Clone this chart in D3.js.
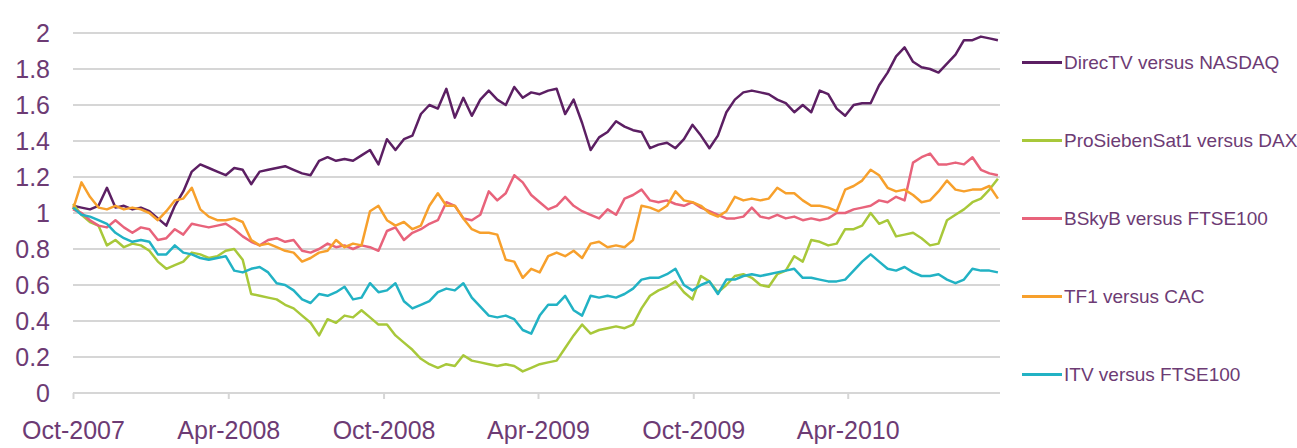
<!DOCTYPE html>
<html>
<head>
<meta charset="utf-8">
<script src="https://cdn.jsdelivr.net/npm/d3@7/dist/d3.min.js"></script>
<style>
  body { margin: 0; background: #fff; }
  svg { display: block; font-family: "Liberation Sans", Arial, sans-serif; }
</style>
</head>
<body>
<div id="container"></div>
<script>
/* CONSTANTS AND GLOBALS */
const width = 1297,
  height = 448,
  margin = { top: 33, bottom: 55, left: 73, right: 297 }

const textColor = "#6d3b74"
const gridColor = "#d6d6d6"

/* DATA */
// relative performance, one reading every 10 days from 1 Oct 2007
const startDate = new Date(2007, 9, 1)
const stepDays = 10

const directv = [1.04,1.03,1.02,1.04,1.14,1.03,1.04,1.02,1.03,1.01,
  0.97,0.93,1.04,1.12,1.23,1.27,1.25,1.23,1.21,1.25,
  1.24,1.16,1.23,1.24,1.25,1.26,1.24,1.22,1.21,1.29,
  1.31,1.29,1.30,1.29,1.32,1.35,1.27,1.41,1.35,1.41,
  1.43,1.55,1.60,1.58,1.69,1.53,1.64,1.54,1.63,1.68,
  1.63,1.60,1.70,1.64,1.67,1.66,1.68,1.69,1.55,1.63,
  1.50,1.35,1.42,1.45,1.51,1.48,1.46,1.45,1.36,1.38,
  1.39,1.36,1.41,1.49,1.43,1.36,1.43,1.56,1.63,1.67,
  1.68,1.67,1.66,1.63,1.61,1.56,1.60,1.56,1.68,1.66,
  1.58,1.54,1.60,1.61,1.61,1.71,1.78,1.87,1.92,1.84,
  1.81,1.80,1.78,1.83,1.88,1.96,1.96,1.98,1.97,1.96]

const prosieben = [1.05,0.99,0.95,0.93,0.82,0.85,0.81,0.83,0.82,0.79,
  0.73,0.69,0.71,0.73,0.78,0.77,0.75,0.76,0.79,0.80,
  0.74,0.55,0.54,0.53,0.52,0.49,0.47,0.43,0.39,0.32,
  0.41,0.39,0.43,0.42,0.46,0.42,0.38,0.38,0.32,0.28,
  0.24,0.19,0.16,0.14,0.16,0.15,0.21,0.18,0.17,0.16,
  0.15,0.16,0.15,0.12,0.14,0.16,0.17,0.18,0.25,0.32,
  0.38,0.33,0.35,0.36,0.37,0.36,0.38,0.47,0.54,0.57,
  0.59,0.62,0.56,0.52,0.65,0.62,0.56,0.60,0.65,0.66,
  0.64,0.60,0.59,0.66,0.68,0.76,0.73,0.85,0.84,0.82,
  0.83,0.91,0.91,0.93,1.00,0.94,0.96,0.87,0.88,0.89,
  0.86,0.82,0.83,0.96,0.99,1.02,1.06,1.08,1.13,1.19]

const bskyb = [1.02,1.00,0.96,0.93,0.92,0.96,0.92,0.89,0.92,0.91,
  0.85,0.86,0.91,0.88,0.94,0.93,0.92,0.93,0.94,0.91,
  0.87,0.84,0.82,0.85,0.86,0.84,0.85,0.79,0.78,0.80,
  0.83,0.81,0.82,0.80,0.82,0.81,0.79,0.90,0.92,0.85,
  0.89,0.91,0.94,0.96,1.06,1.04,0.97,0.96,0.99,1.12,
  1.07,1.11,1.21,1.17,1.10,1.06,1.02,1.04,1.09,1.04,
  1.01,0.99,0.97,1.02,0.99,1.08,1.10,1.13,1.07,1.06,
  1.07,1.05,1.04,1.06,1.03,1.01,0.99,0.97,0.97,0.98,
  1.03,0.98,0.97,0.99,0.97,0.98,0.96,0.97,0.96,0.97,
  1.00,1.00,1.02,1.03,1.04,1.07,1.06,1.09,1.07,1.28,
  1.31,1.33,1.27,1.27,1.28,1.27,1.31,1.24,1.22,1.21]

const tf1 = [1.02,1.17,1.09,1.03,1.02,1.04,1.02,1.03,1.02,1.00,
  0.96,1.01,1.07,1.08,1.14,1.02,0.98,0.96,0.96,0.97,
  0.95,0.85,0.82,0.83,0.81,0.79,0.78,0.73,0.75,0.78,
  0.79,0.85,0.81,0.83,0.82,1.01,1.04,0.96,0.93,0.95,
  0.91,0.93,1.04,1.11,1.04,1.04,0.97,0.91,0.89,0.89,
  0.88,0.74,0.73,0.64,0.69,0.67,0.76,0.78,0.76,0.79,
  0.75,0.83,0.84,0.81,0.82,0.81,0.85,1.04,1.03,1.01,
  1.04,1.12,1.07,1.06,1.04,1.00,0.98,1.01,1.09,1.07,
  1.08,1.07,1.08,1.14,1.11,1.11,1.07,1.04,1.04,1.03,
  1.01,1.13,1.15,1.18,1.24,1.21,1.14,1.12,1.13,1.10,
  1.06,1.07,1.12,1.18,1.13,1.12,1.13,1.13,1.15,1.08]

const itv = [1.03,0.99,0.98,0.96,0.94,0.89,0.86,0.84,0.85,0.84,
  0.77,0.77,0.82,0.78,0.77,0.75,0.74,0.75,0.76,0.68,
  0.67,0.69,0.70,0.67,0.61,0.60,0.57,0.52,0.50,0.55,
  0.54,0.56,0.59,0.52,0.53,0.61,0.56,0.57,0.61,0.51,
  0.47,0.49,0.51,0.56,0.58,0.57,0.61,0.53,0.48,0.43,
  0.42,0.43,0.41,0.35,0.33,0.43,0.49,0.49,0.54,0.46,
  0.43,0.54,0.53,0.54,0.53,0.55,0.58,0.63,0.64,0.64,
  0.66,0.69,0.60,0.57,0.60,0.62,0.55,0.63,0.63,0.65,
  0.66,0.65,0.66,0.67,0.68,0.69,0.64,0.64,0.63,0.62,
  0.62,0.63,0.68,0.73,0.77,0.73,0.69,0.68,0.70,0.67,
  0.65,0.65,0.66,0.63,0.61,0.63,0.69,0.68,0.68,0.67]

const seriesNames = ["DirecTV versus NASDAQ", "ProSiebenSat1 versus DAX",
  "BSkyB versus FTSE100", "TF1 versus CAC", "ITV versus FTSE100"]
const seriesColors = ["#5c1f63", "#a8c83a", "#e8637b", "#f7a02c", "#22b2c4"]
const seriesValues = [directv, prosieben, bskyb, tf1, itv]

const xTickLabels = ["Oct-2007", "Apr-2008", "Oct-2008", "Apr-2009", "Oct-2009", "Apr-2010"]
const xTickDates = [new Date(2007, 9, 1), new Date(2008, 3, 1), new Date(2008, 9, 1),
  new Date(2009, 3, 1), new Date(2009, 9, 1), new Date(2010, 3, 1)]
const yTicks = [0, 0.2, 0.4, 0.6, 0.8, 1, 1.2, 1.4, 1.6, 1.8, 2]

const dates = directv.map((d, i) => d3.timeDay.offset(startDate, i * stepDays))

// SCALES
const xScale = d3.scaleTime()
  .domain([new Date(2007, 9, 1), new Date(2010, 9, 1)])
  .range([margin.left, 1003])

const yScale = d3.scaleLinear()
  .domain([0, 2])
  .range([height - margin.bottom, margin.top])

const plotRight = 1000

// CREATE SVG ELEMENT
const svg = d3.select("#container")
  .append("svg")
  .attr("width", width)
  .attr("height", height)

// GRIDLINES
svg.append("g")
  .selectAll("line")
  .data(yTicks.filter(d => d > 0))
  .join("line")
  .attr("x1", margin.left)
  .attr("x2", plotRight)
  .attr("y1", d => yScale(d))
  .attr("y2", d => yScale(d))
  .attr("stroke", gridColor)
  .attr("stroke-width", 2)

// Y LABELS
svg.append("g")
  .selectAll("text")
  .data(yTicks)
  .join("text")
  .attr("x", 50)
  .attr("y", d => yScale(d))
  .attr("dy", "0.35em")
  .attr("text-anchor", "end")
  .attr("fill", textColor)
  .attr("font-size", 25)
  .text(d => String(+d.toFixed(1)))

// X AXIS
const xAxis = d3.axisBottom(xScale)
  .tickValues(xTickDates)
  .tickSize(6)
  .tickPadding(22)
  .tickFormat((d, i) => xTickLabels[i])

const xAxisGroup = svg.append("g")
  .attr("class", "xAxis")
  .attr("transform", `translate(0, ${yScale(0)})`)
  .call(xAxis)

xAxisGroup.select(".domain")
  .attr("d", `M${margin.left},0H${plotRight}`)
  .attr("stroke", gridColor)
  .attr("stroke-width", 2)
xAxisGroup.selectAll(".tick line")
  .attr("stroke", gridColor)
  .attr("stroke-width", 2)
xAxisGroup.selectAll(".tick text")
  .attr("fill", textColor)
  .attr("font-size", 25)
  .attr("font-family", "Liberation Sans, Arial, sans-serif")

// DRAW LINES
const line = d3.line()
  .x((d, i) => xScale(dates[i]))
  .y(d => yScale(d))

svg.append("g")
  .selectAll("path")
  .data(seriesValues)
  .join("path")
  .attr("fill", "none")
  .attr("stroke", (d, i) => seriesColors[i])
  .attr("stroke-width", 2.5)
  .attr("stroke-linejoin", "round")
  .attr("d", line)

// LEGEND
const legend = svg.append("g")
  .selectAll("g")
  .data(seriesNames)
  .join("g")
  .attr("transform", (d, i) => `translate(1022, ${62.5 + i * 78})`)

legend.append("line")
  .attr("x1", 0)
  .attr("x2", 40)
  .attr("stroke", (d, i) => seriesColors[i])
  .attr("stroke-width", 3)

legend.append("text")
  .attr("x", 42)
  .attr("dy", "0.35em")
  .attr("fill", textColor)
  .attr("font-size", 19)
  .text(d => d)
</script>
</body>
</html>
